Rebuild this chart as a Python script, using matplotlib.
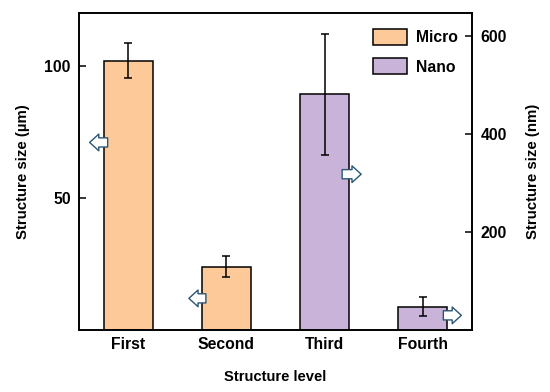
import matplotlib
matplotlib.use("Agg")
import matplotlib.pyplot as plt
from matplotlib.patches import Patch

plt.rcParams['font.family'] = ['Liberation Sans', 'DejaVu Sans']
plt.rcParams['font.weight'] = 'bold'

# data
levels = ["First", "Second", "Third", "Fourth"]
micro_pos = [0, 1]
micro_vals = [102, 24]
micro_err = [6.8, 4.0]
nano_pos = [2, 3]
nano_vals = [481, 48]
nano_err = [124, 19]

micro_col = "#fdc999"
nano_col = "#c9b3d8"
arrow_col = "#2a5673"

fig = plt.figure(figsize=(5.5, 3.92), dpi=100)
ax = fig.add_axes([0.1436, 0.158, 0.7146, 0.809])
ax2 = ax.twinx()

ax.bar(micro_pos, micro_vals, width=0.5, color=micro_col, edgecolor="black", linewidth=1.1, zorder=2)
ax.errorbar(micro_pos, micro_vals, yerr=micro_err, fmt="none", ecolor="black",
            elinewidth=1.1, capsize=3, capthick=1.1, zorder=3)
ax2.bar(nano_pos, nano_vals, width=0.5, color=nano_col, edgecolor="black", linewidth=1.1, zorder=2)
ax2.errorbar(nano_pos, nano_vals, yerr=nano_err, fmt="none", ecolor="black",
             elinewidth=1.1, capsize=3, capthick=1.1, zorder=3)

ax.set_xlim(-0.5, 3.5)
ax.set_ylim(0, 120)
ax2.set_ylim(0, 647)
ax.set_yticks([50, 100])
ax2.set_yticks([200, 400, 600])
ax.set_xticks(range(len(levels)))
ax.set_xticklabels(levels)

for a in (ax, ax2):
    a.tick_params(direction="in", length=5, width=1.1, labelsize=11.3)
    for s in a.spines.values():
        s.set_linewidth(1.2)
ax.tick_params(axis="x", pad=5)
ax.tick_params(axis="y", pad=6)
ax2.tick_params(axis="y", pad=6)

ax.set_xlabel("Structure level", fontsize=10.6, fontweight="bold", labelpad=13)
ax.set_ylabel("Structure size (\u00b5m)", fontsize=10.8, fontweight="bold", labelpad=10)
ax2.set_ylabel("Structure size (nm)", fontsize=10.8, fontweight="bold", labelpad=14)

# hollow arrows pointing to the axis each bar belongs to
arr = dict(arrowstyle="simple,head_length=0.55,head_width=1.0,tail_width=0.55",
           mutation_scale=12, fc="white", ec=arrow_col, lw=1.0)
ax.annotate("", xy=(-0.42, 71), xytext=(-0.18, 71), arrowprops=arr, zorder=4)
ax.annotate("", xy=(0.59, 12), xytext=(0.82, 12), arrowprops=arr, zorder=4)
ax2.annotate("", xy=(2.40, 318), xytext=(2.15, 318), arrowprops=arr, zorder=4)
ax2.annotate("", xy=(3.42, 30), xytext=(3.18, 30), arrowprops=arr, zorder=4)

handles = [Patch(facecolor=micro_col, edgecolor="black", linewidth=1.1, label="Micro"),
           Patch(facecolor=nano_col, edgecolor="black", linewidth=1.1, label="Nano")]
ax2.legend(handles=handles, loc="upper right", bbox_to_anchor=(1.0, 0.995), frameon=False,
           fontsize=11.3, handlelength=2.2, handleheight=1.2, labelspacing=0.85,
           handletextpad=0.55)

fig.savefig("out.png", dpi=100)
